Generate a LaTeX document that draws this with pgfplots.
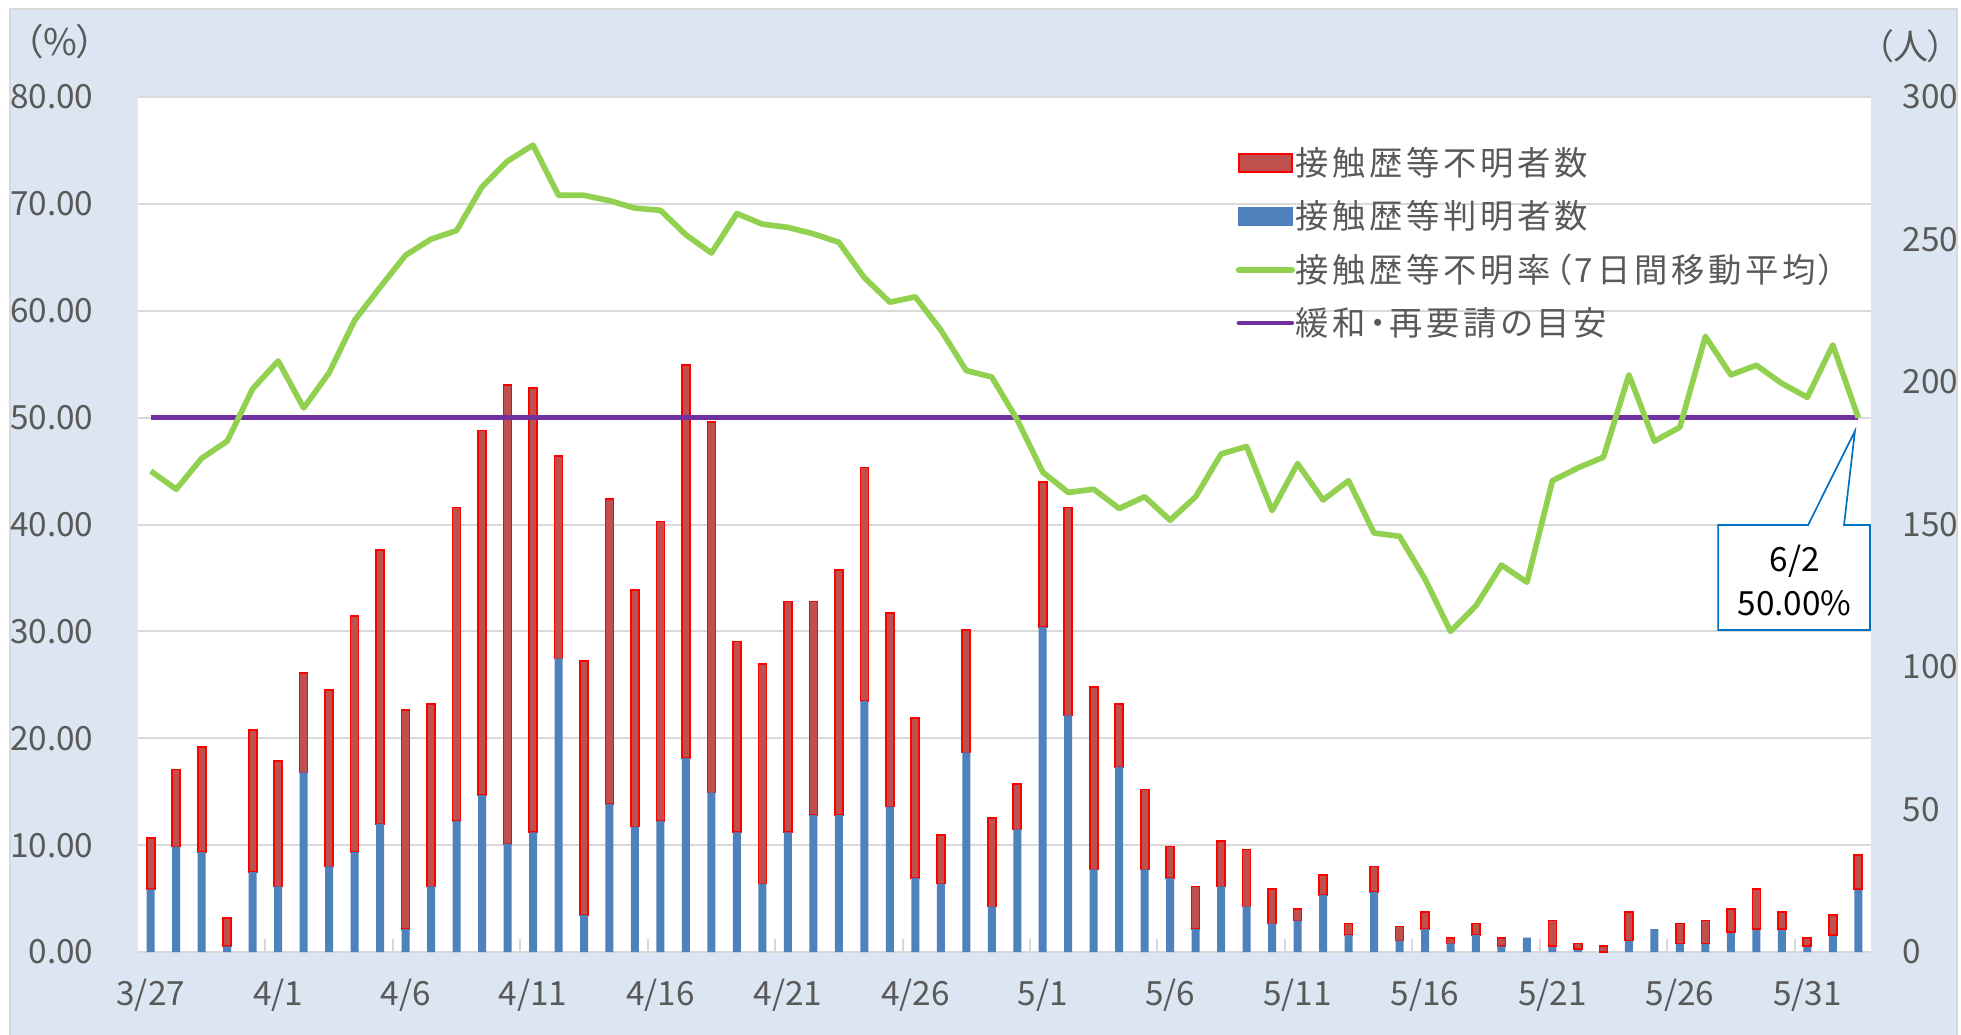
\documentclass[border=0pt]{standalone}
\usepackage{fontspec}
\setmainfont{Noto Sans CJK JP}[RawFeature=+palt]
\newfontfamily\legfont{Noto Sans CJK JP}[RawFeature=+palt, LetterSpace=11]
\usepackage{pgfplots}
\usepackage{pgfplotstable}
\pgfplotsset{compat=1.18}

\definecolor{bgblue}{HTML}{DCE6F2}
\definecolor{gridgray}{HTML}{D9D9D9}
\definecolor{txtgray}{HTML}{595959}
\definecolor{barblue}{HTML}{4F81BD}
\definecolor{barred}{HTML}{C0504D}
\definecolor{edgered}{HTML}{FF0000}
\definecolor{lgreen}{HTML}{92D050}
\definecolor{lpurple}{HTML}{7030A0}
\definecolor{callblue}{HTML}{0070C0}

% idx: day index from 3/27 (0) to 6/2 (67)
% known: contact history known (blue), unknown: contact history unknown (red), rate: 7-day avg unknown rate (%)
\pgfplotstableread{
idx known unknown rate
0 22 18 45.0
1 37 27 43.3
2 35 37 46.2
3 2 10 47.8
4 28 50 52.7
5 23 44 55.3
6 63 35 50.9
7 30 62 54.2
8 35 83 59.1
9 45 96 62.2
10 8 77 65.2
11 23 64 66.7
12 46 110 67.5
13 55 128 71.6
14 38 161 74.0
15 42 156 75.5
16 103 71 70.8
17 13 89 70.8
18 52 107 70.3
19 44 83 69.6
20 46 105 69.4
21 68 138 67.1
22 56 130 65.4
23 42 67 69.1
24 24 77 68.1
25 42 81 67.8
26 48 75 67.2
27 48 86 66.4
28 88 82 63.1
29 51 68 60.8
30 26 56 61.3
31 24 17 58.2
32 70 43 54.4
33 16 31 53.8
34 43 16 49.8
35 114 51 44.9
36 83 73 43.0
37 29 64 43.3
38 65 22 41.5
39 29 28 42.6
40 26 11 40.4
41 8 15 42.6
42 23 16 46.6
43 16 20 47.3
44 10 12 41.3
45 11 4 45.7
46 20 7 42.3
47 6 4 44.1
48 21 9 39.2
49 4 5 38.9
50 8 6 34.9
51 3 2 30.0
52 6 4 32.4
53 2 3 36.2
54 5 0 34.6
55 2 9 44.1
56 1 2 45.3
57 0 2 46.3
58 4 10 54.0
59 8 0 47.8
60 3 7 49.1
61 3 8 57.6
62 7 8 54.0
63 8 14 54.9
64 8 6 53.2
65 2 3 51.9
66 6 7 56.8
67 22 12 50.0
}\datatable

\pgfplotsset{
  chartgeom/.style={
    at={(41.4pt,24.6pt)}, anchor=south west, scale only axis,
    width=519.9pt, height=256.5pt,
    xmin=-0.5, xmax=67.5,
  },
  barax/.style={chartgeom, ymin=0, ymax=300, axis lines=none,
    ybar stacked, bar width=2.4pt},
  bluebar/.style={fill=barblue, draw=none},
  redbar/.style={fill=barred, draw=edgered, line width=0.5pt},
}
\newcommand{\tickfont}{\fontsize{10}{12}\selectfont}

\begin{document}
\begin{tikzpicture}[x=1pt,y=1pt]
\useasboundingbox (0,0) rectangle (588.3,310.2);
\fill[white] (0,0) rectangle (588.3,310.2);
\fill[bgblue] (3,-5) rectangle (587.1,307.5);
\draw[gridgray, line width=0.6pt] (3,-5) -- (3,307.5) -- (587.1,307.5) -- (587.1,-5);

% Axis A: grid, left ticks, x labels
\begin{axis}[chartgeom,
  ymin=0, ymax=80,
  axis background/.style={fill=white},
  axis line style={draw=none},
  ytick={0,10,20,30,40,50,60,70,80},
  ymajorgrids, grid style={gridgray, line width=0.6pt},
  major tick length=0pt,
  xtick pos=bottom, ytick pos=left,
  yticklabel style={anchor=east, inner sep=0pt, xshift=-13.2pt, text=txtgray, font=\tickfont,
    /pgf/number format/.cd, fixed, fixed zerofill, precision=2, assume math mode=true},
  xtick={0,5,10,15,20,25,30,35,40,45,50,55,60,65},
  xticklabels={3/27,4/1,4/6,4/11,4/16,4/21,4/26,5/1,5/6,5/11,5/16,5/21,5/26,5/31},
  xticklabel style={anchor=center, yshift=-13pt, text=txtgray, font=\tickfont},
  extra x ticks={4.5,9.5,14.5,19.5,24.5,29.5,34.5,39.5,44.5,49.5,54.5,59.5,64.5},
  extra x tick labels={},
  extra x tick style={major tick length=4pt, tick style={gridgray, line width=0.6pt}},
]
\addplot[draw=none, forget plot] coordinates {(0,0)};
\end{axis}

% Axis B1: all blue bars + red bars 3/27-5/19, right axis labels
\begin{axis}[chartgeom,
  ymin=0, ymax=300,
  axis x line=none,
  axis y line*=right,
  axis line style={draw=none},
  major tick length=0pt,
  ytick={0,50,100,150,200,250,300},
  yticklabel style={anchor=west, inner sep=0pt, xshift=9.3pt, text=txtgray, font=\tickfont,
    /pgf/number format/assume math mode=true},
  ybar stacked, bar width=2.4pt,
]
\addplot[bluebar] table[x=idx, y=known] {\datatable};
\addplot[redbar, restrict x to domain=0:53] table[x=idx, y=unknown] {\datatable};
\end{axis}

% Axis B2: red bars 5/21-5/24
\begin{axis}[barax]
\addplot[fill=none, draw=none, restrict x to domain=55:67] table[x=idx, y=known] {\datatable};
\addplot[redbar, restrict x to domain=55:58] table[x=idx, y=unknown] {\datatable};
\end{axis}

% Axis B3: red bars 5/26-6/2
\begin{axis}[barax]
\addplot[fill=none, draw=none, restrict x to domain=60:67] table[x=idx, y=known] {\datatable};
\addplot[redbar, restrict x to domain=60:67] table[x=idx, y=unknown] {\datatable};
\end{axis}

% Axis C: lines, legend, callout
\begin{axis}[chartgeom,
  ymin=0, ymax=80,
  axis lines=none,
  clip=false,
  legend cell align=left,
  legend style={at={(0.6335,0.9392)}, anchor=north west, draw=none, fill=none,
    inner sep=0pt, outer sep=0pt, row sep=6pt, column sep=0.2pt,
    font=\legfont\fontsize{10}{12}\selectfont, text=txtgray,
    nodes={inner sep=0pt, text height=8pt, text depth=2pt}},
]
\addlegendimage{legend image code/.code={\fill[barred, draw=edgered, line width=0.6pt] (0.6pt,-1.9pt) rectangle (16.5pt,3.5pt);}}
\addlegendentry{接触歴等不明者数}
\addlegendimage{legend image code/.code={\fill[barblue] (0.6pt,-1.9pt) rectangle (16.5pt,3.5pt);}}
\addlegendentry{接触歴等判明者数}
\addlegendimage{legend image code/.code={\draw[lgreen, line width=1.8pt, line cap=round] (0.6pt,0.8pt) -- (16.5pt,0.8pt);}}
\addlegendentry{接触歴等不明率（7日間移動平均）}
\addlegendimage{legend image code/.code={\draw[lpurple, line width=1.4pt, line cap=round] (0.6pt,0.8pt) -- (16.5pt,0.8pt);}}
\addlegendentry{緩和・再要請の目安}

\addplot[lpurple, line width=1.3pt, forget plot] coordinates {(0,50) (67,50)};
\addplot[lgreen, line width=1.7pt, line join=round, forget plot] table[x=idx, y=rate] {\datatable};

\draw[callblue, line width=0.5pt, fill=white]
  (axis cs:61.5,39.95) -- (axis cs:65.03,39.95) -- (axis cs:66.87,48.75) -- (axis cs:66.44,39.95)
  -- (axis cs:67.46,39.95) -- (axis cs:67.46,30.13) -- (axis cs:61.5,30.13) -- cycle;
\node[font=\tickfont, text=black] at (axis cs:64.5,36.6) {6/2};
\node[font=\tickfont, text=black] at (axis cs:64.5,32.6) {50.00\%};
\end{axis}

\node[text=txtgray, font=\fontsize{11}{13}\selectfont] at (18,297.8) {（\%）};
\node[text=txtgray, font=\fontsize{10.5}{13}\selectfont] at (573.2,296.4) {（人）};
\end{tikzpicture}
\end{document}
